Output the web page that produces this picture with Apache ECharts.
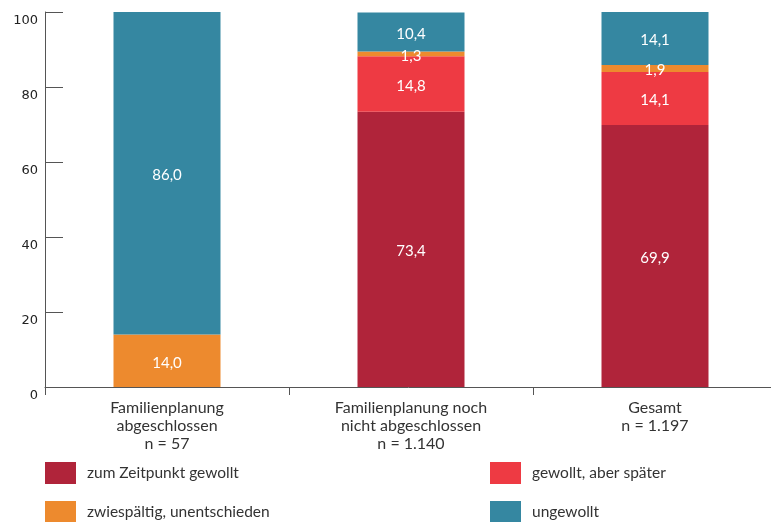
<!DOCTYPE html>
<html><head><meta charset="utf-8">
<script src="https://cdn.jsdelivr.net/npm/echarts@6/dist/echarts.min.js"></script>
<style>html,body{margin:0;padding:0;background:#fff}#c{width:771px;height:522px}</style>
</head><body><div id="c"></div>
<script>
const categories = ["Familienplanung\nabgeschlossen\nn = 57", "Familienplanung noch\nnicht abgeschlossen\nn = 1.140", "Gesamt\nn = 1.197"];
const seriesNames = ["zum Zeitpunkt gewollt", "gewollt, aber später", "zwiespältig, unentschieden", "ungewollt"];
const zumZeitpunkt = [0, 73.4, 69.9];
const gewolltSpaeter = [0, 14.8, 14.1];
const zwiespaeltig = [14.0, 1.3, 1.9];
const ungewollt = [86.0, 10.4, 14.1];
const yTicks = [0, 20, 40, 60, 80, 100];
const colors = ["#B0243A", "#EE3A43", "#ED8A2E", "#3587A1"];

const values = [zumZeitpunkt, gewolltSpaeter, zwiespaeltig, ungewollt];
const font = "Lato, 'Open Sans', sans-serif";
const legendPos = [[45, 462], [490, 462], [45, 501], [490, 501]];
const chart = echarts.init(document.getElementById('c'), null, {renderer: 'canvas'});
chart.setOption({
  animation: false,
  grid: {left: 45, top: 12, width: 732, bottom: 135, containLabel: false, outerBoundsMode: 'none'},
  xAxis: {
    type: 'category', data: categories,
    axisLine: {lineStyle: {color: '#555', width: 1}},
    axisTick: {show: true, length: 8, lineStyle: {color: '#555'}},
    axisLabel: {color: '#333', fontFamily: font, fontSize: 16, lineHeight: 18, margin: 12}
  },
  yAxis: {
    type: 'value', min: 0, max: 100, interval: 20,
    axisLine: {show: true, lineStyle: {color: '#555', width: 1}},
    axisTick: {show: true, inside: true, length: 18, lineStyle: {color: '#555'}},
    splitLine: {show: false},
    axisLabel: {color: '#222', fontFamily: 'DejaVu Sans', fontSize: 13, margin: 7, verticalAlign: 'top', padding: [2,0,0,0],
      formatter: v => yTicks.includes(v) ? String(v) : ''}
  },
  legend: seriesNames.map((name, i) => ({
    left: legendPos[i][0], top: legendPos[i][1], padding: 0, itemWidth: 31, itemHeight: 22, icon: 'rect',
    data: [name],
    textStyle: {color: '#333', fontFamily: font, fontSize: 15.5, padding: [0,0,0,6]}
  })),
  series: seriesNames.map((name, i) => ({
    name, type: 'bar', stack: 'total', barWidth: 107,
    itemStyle: {color: colors[i]},
    data: values[i],
    label: {show: true, position: 'inside', offset: [0, 2], color: '#fff', fontFamily: font, fontSize: 15,
      formatter: p => p.value > 0 ? p.value.toFixed(1).replace('.', ',') : ''}
  }))
});
</script></body></html>
